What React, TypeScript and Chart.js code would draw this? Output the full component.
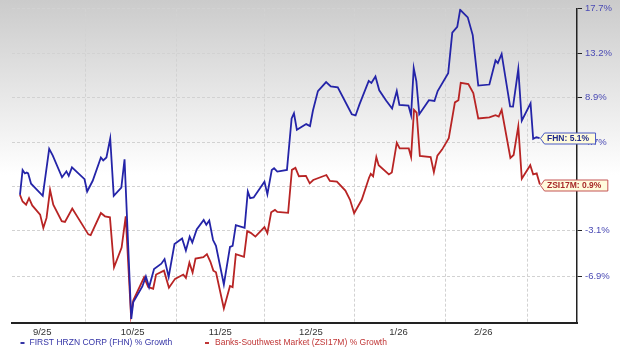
import React, { useEffect, useRef } from 'react';
import { Chart, registerables } from 'chart.js';

Chart.register(...registerables);

// ---- data (days since 1 Sep 2025, cumulative % growth) ----
const fhnDay = [7.4, 8.3, 9.1, 9.7, 10.2, 11.2, 12.5, 15.2, 17.4, 18.6,
  21.8, 23.3, 24.1, 25.2, 29.5, 30.4, 32.3, 35.1, 35.9, 37.0,
  38.3, 39.5, 42.1, 43.2, 45.5, 46.2, 49.3, 50.5, 51.6, 53.3,
  55.8, 56.9, 58.3, 60.3, 62.9, 64.2, 65.5, 66.4, 67.9, 70.3,
  71.2, 72.2, 73.5, 74.5, 77.2, 79.3, 80.2, 81.3, 84.3, 85.4,
  86.2, 87.4, 91.1, 92.1, 93.6, 94.4, 95.5, 98.8, 100.4, 101.2,
  102.2, 105.4, 106.7, 107.7, 109.4, 112.2, 113.8, 116.2, 121.0, 122.3,
  123.6, 126.8, 127.7, 129.1, 130.4, 132.8, 134.8, 136.4, 137.3, 140.4,
  141.3, 142.2, 143.1, 144.1, 147.4, 149.3, 150.4, 154.0, 155.4, 157.1,
  158.1, 160.7, 162.4, 164.3, 168.1, 170.2, 171.0, 172.3, 175.2, 176.2,
  178.0, 179.2, 182.2, 183.1, 184.2, 185.3];

const fhnGrowth = [0.0, 2.19, 1.89, 1.97, 1.89, 0.98, 0.63, -0.09, 4.11, 3.52,
  1.55, 2.08, 1.68, 2.43, 1.38, 0.29, 1.24, 3.32, 3.06, 3.32,
  5.06, -0.08, 0.63, 3.16, -10.30, -8.95, -7.71, -6.89, -7.76, -6.28,
  -5.85, -5.47, -6.93, -4.21, -3.75, -4.76, -3.59, -4.08, -2.98, -2.18,
  -2.59, -2.22, -3.88, -4.37, -7.55, -4.46, -4.37, -2.62, -2.85, 0.29,
  -0.29, -0.23, 1.16, 0.05, 2.19, 2.35, 2.06, 2.21, 6.92, 7.40,
  5.86, 6.39, 6.21, 7.66, 9.51, 10.37, 9.95, 9.87, 7.31, 7.20,
  8.22, 10.49, 10.30, 10.92, 9.59, 8.59, 7.85, 9.51, 8.20, 8.13,
  7.22, 11.74, 10.46, 7.31, 8.64, 8.57, 9.51, 11.23, 15.25, 15.84,
  17.59, 16.81, 15.01, 10.04, 10.14, 12.49, 12.22, 13.13, 8.06, 8.03,
  11.64, 6.70, 8.34, 5.02, 5.17, 5.1];

const zsiDay = [7.4, 8.3, 9.5, 10.5, 11.6, 14.3, 15.4, 16.5, 17.7, 18.8,
  21.7, 22.8, 25.3, 30.8, 31.6, 35.1, 36.5, 38.2, 39.6, 42.2,
  43.6, 45.4, 46.2, 49.9, 51.3, 53.0, 54.0, 56.7, 58.4, 60.5,
  63.3, 64.2, 65.4, 66.5, 67.5, 70.2, 71.4, 72.6, 73.6, 74.5,
  77.2, 79.3, 80.2, 81.3, 84.1, 85.2, 86.4, 88.0, 91.1, 92.1,
  93.4, 94.7, 95.5, 99.2, 100.5, 101.7, 102.9, 105.3, 106.6, 107.8,
  112.3, 113.5, 115.9, 118.8, 120.4, 121.8, 124.4, 126.9, 127.5, 128.3,
  129.4, 130.2, 133.7, 134.7, 136.4, 137.4, 140.5, 141.3, 142.3, 143.2,
  144.3, 148.0, 149.1, 150.3, 151.9, 154.2, 156.3, 157.5, 158.3, 160.9,
  162.6, 164.3, 168.1, 170.2, 171.3, 172.3, 175.3, 176.4, 178.0, 179.2,
  182.1, 183.1, 184.3, 185.4];

const zsiGrowth = [0.0, -0.58, -0.86, -0.29, -0.92, -1.72, -2.85, -2.00, 0.43, -0.86,
  -2.28, -2.34, -1.20, -3.40, -3.46, -1.58, -1.86, -1.95, -6.15, -4.51,
  -1.86, -9.99, -8.82, -6.96, -7.76, -7.89, -6.74, -6.42, -7.81, -7.09,
  -6.74, -7.01, -5.77, -6.58, -5.43, -5.31, -5.06, -5.69, -6.42, -6.56,
  -9.47, -7.67, -7.76, -5.06, -5.28, -3.13, -3.27, -3.59, -2.79, -3.29,
  -1.52, -1.31, -1.48, -1.56, 2.21, 2.39, 1.64, 1.67, 1.01, 1.31,
  1.75, 1.22, 1.16, 0.37, -0.43, -1.60, -0.43, 1.51, 1.86, 1.64,
  3.37, 2.63, 1.80, 1.97, 4.66, 4.15, 4.15, 3.37, 7.72, 7.47,
  3.46, 3.37, 2.00, 3.49, 4.04, 5.08, 8.43, 8.64, 10.30, 10.18,
  9.32, 6.92, 7.01, 7.22, 7.10, 7.72, 3.28, 3.55, 6.18, 1.42,
  2.63, 1.80, 1.89, 0.9];

const yTickPct = [17.7, 13.2, 8.9, 4.7, 0.7, -3.1, -6.9];
const monthStartDay = [30, 61, 91, 122, 153, 181];
const monthMidDay = [15, 46, 76, 107, 137, 166];
const monthLabel = ['9/25', '10/25', '11/25', '12/25', '1/26', '2/26'];
const seriesNames = ['FIRST HRZN CORP (FHN) % Growth', 'Banks-Southwest Market (ZSI17M) % Growth'];
const endTags = ['FHN', 'ZSI17M'];

const FONT = "'Liberation Sans', Arial, sans-serif";
const LINE_COLORS = ['#2424a8', '#b82424'];
const LEGEND_COLORS = ['#3434a6', '#c03636'];
const TAG_TEXT = ['#1f2b8c', '#a82828'];
const TAG_BORDER = ['#4a5ac4', '#c45454'];
const GRID_COLOR = '#d2d2d2';

const toLog = (p: number) => Math.log(1 + p / 100);
const fromLog = (v: number) => (Math.exp(v) - 1) * 100;

const bgPlugin = {
  id: 'bgGradient',
  beforeDraw(chart: any) {
    const { ctx, width, height } = chart;
    ctx.save();
    const g = ctx.createLinearGradient(0, 0, 0, 175);
    g.addColorStop(0, '#cbcbcb');
    g.addColorStop(1, '#ffffff');
    ctx.fillStyle = '#ffffff';
    ctx.fillRect(0, 0, width, height);
    ctx.fillStyle = g;
    ctx.fillRect(0, 0, width, 175);
    ctx.restore();
  },
};

const legendPlugin = {
  id: 'customLegend',
  afterDraw(chart: any) {
    const ctx = chart.ctx;
    const items = [
      { mx: 20.5, tx: 29.5 },
      { mx: 205, tx: 215 },
    ];
    ctx.save();
    ctx.font = `8.5px ${FONT}`;
    ctx.textBaseline = 'middle';
    items.forEach((it, i) => {
      ctx.fillStyle = LEGEND_COLORS[i];
      ctx.fillRect(it.mx, 342, 4, 2);
      ctx.fillText(seriesNames[i], it.tx, 343);
    });
    ctx.restore();
  },
};

const tagPlugin = {
  id: 'endTags',
  afterDraw(chart: any) {
    const ctx = chart.ctx;
    const series = [fhnGrowth, zsiGrowth];
    ctx.save();
    ctx.font = `bold 8.5px ${FONT}`;
    ctx.textBaseline = 'middle';
    series.forEach((vals, i) => {
      const meta = chart.getDatasetMeta(i);
      const pt = meta.data[meta.data.length - 1];
      const text = `${endTags[i]}: ${vals[vals.length - 1].toFixed(1)}%`;
      const w = ctx.measureText(text).width;
      const x0 = Math.round(pt.x) + 0.5;
      const yc = Math.round(pt.y) + 0.5;
      const h = 5.5;
      const right = x0 + 6 + w + 7;
      ctx.beginPath();
      ctx.moveTo(x0, yc);
      ctx.lineTo(x0 + 4, yc - h);
      ctx.lineTo(right, yc - h);
      ctx.lineTo(right, yc + h);
      ctx.lineTo(x0 + 4, yc + h);
      ctx.closePath();
      ctx.fillStyle = '#fffbdc';
      ctx.fill();
      ctx.lineWidth = 1;
      ctx.strokeStyle = TAG_BORDER[i];
      ctx.stroke();
      ctx.fillStyle = TAG_TEXT[i];
      ctx.fillText(text, x0 + 6.5, yc + 0.5);
    });
    ctx.restore();
  },
};

export default function App() {
  const ref = useRef<HTMLCanvasElement>(null);

  useEffect(() => {
    const canvas = ref.current;
    if (!canvas) return;
    const chart = new Chart(canvas, {
      type: 'line',
      data: {
        datasets: [
          {
            label: seriesNames[0],
            data: fhnDay.map((d, i) => ({ x: d, y: toLog(fhnGrowth[i]) })),
            borderColor: LINE_COLORS[0],
            borderWidth: 1.8,
            pointRadius: 0,
            tension: 0,
            fill: false,
          },
          {
            label: seriesNames[1],
            data: zsiDay.map((d, i) => ({ x: d, y: toLog(zsiGrowth[i]) })),
            borderColor: LINE_COLORS[1],
            borderWidth: 1.8,
            pointRadius: 0,
            tension: 0,
            fill: false,
          },
        ],
      },
      options: {
        animation: false,
        responsive: false,
        events: [],
        layout: { padding: { left: 12, top: 5, right: 0, bottom: 0 } },
        plugins: { legend: { display: false }, tooltip: { enabled: false } },
        scales: {
          x: {
            type: 'linear',
            min: 4.67,
            max: 198.1,
            afterBuildTicks: (s: any) => {
              s.ticks = [...monthStartDay, ...monthMidDay]
                .sort((a, b) => a - b)
                .map((v) => ({ value: v }));
            },
            afterFit: (s: any) => {
              s.height = 28;
            },
            ticks: {
              autoSkip: false,
              maxRotation: 0,
              padding: 4,
              color: '#333333',
              font: { family: FONT, size: 9.5 },
              callback: (v: any) => {
                const i = monthMidDay.indexOf(Number(v));
                return i >= 0 ? monthLabel[i] : '';
              },
            },
            grid: {
              color: (c: any) =>
                c.tick && monthStartDay.includes(c.tick.value) ? GRID_COLOR : 'rgba(0,0,0,0)',
              drawTicks: false,
              lineWidth: 1,
            },
            border: { color: '#222222', width: 2, dash: [3, 2] },
          },
          y: {
            type: 'linear',
            position: 'right',
            min: -0.1122,
            max: toLog(17.7),
            afterBuildTicks: (s: any) => {
              s.ticks = yTickPct.map((p) => ({ value: toLog(p) }));
            },
            afterFit: (s: any) => {
              s.width = 43;
            },
            ticks: {
              padding: 3,
              color: '#4a4ab4',
              font: { family: FONT, size: 9.5 },
              callback: (v: any) => `${fromLog(Number(v)).toFixed(1)}%`,
            },
            grid: {
              color: GRID_COLOR,
              lineWidth: 1,
              tickColor: '#222222',
              tickLength: 5,
              tickBorderDash: [],
            },
            border: { color: '#222222', width: 1.5, dash: [3, 2] },
          },
        },
      },
      plugins: [bgPlugin, legendPlugin, tagPlugin],
    } as any);
    return () => chart.destroy();
  }, []);

  return (
    <div style={{ position: 'absolute', left: 0, top: 0, width: 620, height: 351 }}>
      <canvas ref={ref} width={620} height={351} style={{ display: 'block' }} />
    </div>
  );
}
